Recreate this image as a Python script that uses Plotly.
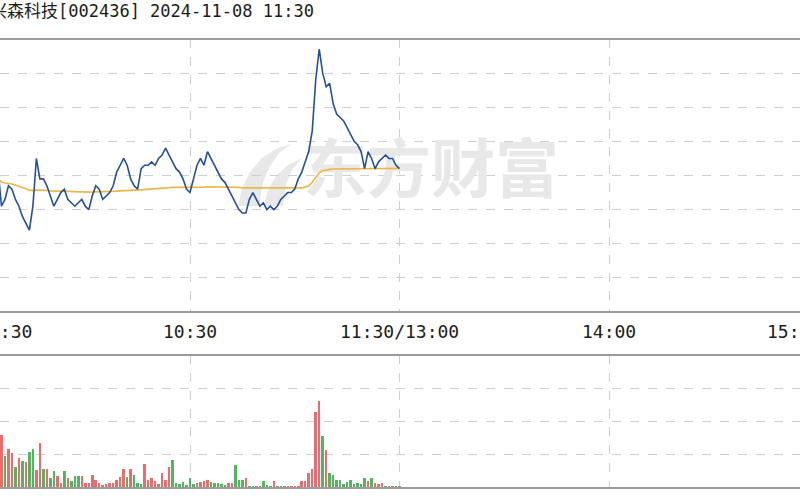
import plotly.graph_objects as go

# ---------------- data ----------------
title_text = "兴森科技[002436] 2024-11-08 11:30"
prev_close = 12.80

minutes = list(range(121))  # trading minutes from 9:30 to 11:30

price = [
    12.77, 12.80, 12.82, 12.81, 12.83, 12.82, 12.71, 12.73, 12.77, 12.76,
    12.73, 12.71, 12.68, 12.66, 12.64, 12.71, 12.85, 12.79, 12.79, 12.77,
    12.74, 12.71, 12.73, 12.75, 12.76, 12.73, 12.72, 12.71, 12.72, 12.73,
    12.71, 12.70, 12.74, 12.77, 12.76, 12.73, 12.74, 12.75, 12.77, 12.81,
    12.83, 12.85, 12.83, 12.79, 12.77, 12.76, 12.82, 12.83, 12.83, 12.84,
    12.83, 12.85, 12.86, 12.88, 12.86, 12.84, 12.82, 12.81, 12.79, 12.76,
    12.75, 12.79, 12.83, 12.85, 12.83, 12.87, 12.85, 12.83, 12.81, 12.79,
    12.78, 12.76, 12.74, 12.72, 12.70, 12.69, 12.69, 12.73, 12.75, 12.73,
    12.71, 12.72, 12.70, 12.71, 12.70, 12.71, 12.73, 12.74, 12.75, 12.75,
    12.76, 12.79, 12.81, 12.84, 12.87, 12.93, 13.08, 13.17, 13.10, 13.06,
    13.07, 13.01, 12.98, 12.97, 12.96, 12.94, 12.92, 12.90, 12.89, 12.87,
    12.82, 12.87, 12.85, 12.82, 12.84, 12.85, 12.86, 12.85, 12.85, 12.83,
    12.82,
]

avg_price = [
    12.770, 12.785, 12.792, 12.795, 12.796, 12.790, 12.781, 12.778, 12.777, 12.775,
    12.772, 12.769, 12.765, 12.761, 12.757, 12.756, 12.758, 12.758, 12.757, 12.756,
    12.755, 12.754, 12.754, 12.754, 12.754, 12.753, 12.753, 12.752, 12.752, 12.752,
    12.751, 12.751, 12.751, 12.752, 12.752, 12.752, 12.752, 12.752, 12.753, 12.754,
    12.755, 12.756, 12.757, 12.757, 12.757, 12.757, 12.758, 12.759, 12.760, 12.761,
    12.761, 12.762, 12.763, 12.764, 12.764, 12.765, 12.765, 12.765, 12.765, 12.765,
    12.764, 12.764, 12.765, 12.766, 12.766, 12.767, 12.767, 12.767, 12.767, 12.767,
    12.767, 12.766, 12.766, 12.765, 12.765, 12.764, 12.764, 12.764, 12.764, 12.764,
    12.764, 12.764, 12.763, 12.763, 12.763, 12.763, 12.763, 12.763, 12.763, 12.763,
    12.763, 12.764, 12.764, 12.766, 12.770, 12.780, 12.795, 12.808, 12.814, 12.817,
    12.818, 12.819, 12.819, 12.819, 12.820, 12.820, 12.820, 12.820, 12.820, 12.820,
    12.820, 12.820, 12.820, 12.820, 12.820, 12.820, 12.820, 12.821, 12.821, 12.821,
    12.821,
]

volume = [
    14250, 9000, 6750, 6000, 5700, 6750, 7950, 4800, 5850, 5250,
    3150, 4500, 4050, 3900, 5400, 5850, 2700, 6750, 2850, 2850,
    1500, 2550, 1800, 750, 2550, 1500, 1050, 1800, 1800, 1800,
    750, 750, 1950, 1200, 750, 450, 600, 750, 750, 1200,
    1650, 2850, 1650, 2850, 1950, 750, 600, 3600, 1200, 1500,
    1050, 600, 2250, 1200, 3150, 4200, 750, 600, 900, 450,
    1500, 600, 750, 900, 1050, 1200, 900, 750, 750, 600,
    450, 750, 750, 3450, 1200, 1200, 1500, 225, 225, 225,
    225, 1050, 450, 300, 1050, 300, 300, 300, 225, 225,
    225, 225, 1050, 1050, 2250, 2850, 11400, 13050, 7800, 5700,
    2250, 1950, 1200, 1200, 600, 900, 1200, 600, 750, 600,
    1500, 1050, 1500, 750, 600, 750, 300, 300, 300, 300,
    300,
]

# r = up minute (red), g = down minute (green)
vol_dir = list(
    "rrgrgrrgrr" "grgrggrrgr" "ggrrgrgggr" "rrrrrrrrrr" "rrgrgggrrr"
    "rrrrrggggg" "ggrrrrgggg" "grrgggrggr" "ggggrggrrr" "rrrrrrrrgr"
    "gggggggggg" "grgrrrggrr" "g"
)

time_tick_vals = [0, 60, 120, 180, 240]
time_tick_text = ["9:30", "10:30", "11:30/13:00", "14:00", "15:00"]

# ---------------- styling ----------------
W, H = 800, 500
RED, GREEN = "#ef6a6a", "#4fb85c"
GRID = "#cfcfcf"
BORDER = "#9c9c9c"


def px(x):
    return x / W


def py(y):
    return 1 - y / H


fig = go.Figure()

# watermark (drawn first so the lines sit on top)
fig.add_trace(go.Scatter(
    x=[129.0], y=[prev_close], mode="text", text=["东方财富"],
    textfont=dict(family="Noto Sans CJK SC", size=64, color="#e8e8e8", weight=700),
    hoverinfo="skip", xaxis="x", yaxis="y", cliponaxis=False,
))

fig.add_trace(go.Scatter(
    x=minutes, y=avg_price, mode="lines",
    line=dict(color="#e9b84a", width=1.7), xaxis="x", yaxis="y",
))
fig.add_trace(go.Scatter(
    x=minutes, y=price, mode="lines",
    line=dict(color="#24509a", width=1.6), xaxis="x", yaxis="y",
))

fig.add_trace(go.Bar(
    x=minutes, y=volume,
    marker=dict(color=[RED if d == "r" else GREEN for d in vol_dir], line=dict(width=0)),
    width=0.72, xaxis="x2", yaxis="y2",
))

xr = [5.58, 234.7]
axis_common = dict(showgrid=True, gridcolor=GRID, griddash="dash", gridwidth=1,
                   zeroline=False, showline=False, showticklabels=False, ticks="")

fig.update_layout(
    width=W, height=H,
    margin=dict(l=0, r=0, t=0, b=0),
    paper_bgcolor="white", plot_bgcolor="white",
    showlegend=False,
    bargap=0,
    xaxis=dict(domain=[0, 1], range=xr, tickvals=time_tick_vals[1:4], anchor="y", **axis_common),
    yaxis=dict(domain=[py(312), py(39)], range=[prev_close - 0.4, prev_close + 0.4],
               tick0=prev_close, dtick=0.1, anchor="x", **axis_common),
    xaxis2=dict(domain=[0, 1], range=xr, tickvals=time_tick_vals[1:4], anchor="y2",
                matches="x", **axis_common),
    yaxis2=dict(domain=[py(488), py(355)], range=[0, 20000], dtick=5000, anchor="x2",
                **axis_common),
)

# panel borders
for yy in (39, 312, 355, 488):
    fig.add_shape(type="line", xref="paper", yref="paper", x0=0, x1=1, y0=py(yy), y1=py(yy),
                  line=dict(color=BORDER, width=2))

# watermark logo swoosh
def path(pts):
    return "M " + " L ".join(f"{px(a):.5f},{py(b):.5f}" for a, b in pts) + " Z"

logo1 = [(238, 206), (242, 188), (250, 172), (262, 158), (278, 148), (292, 144),
         (280, 152), (270, 166), (263, 182), (259, 206)]
logo2 = [(264, 206), (268, 190), (276, 176), (288, 165), (302, 158),
         (292, 170), (286, 184), (283, 206)]
for pts in (logo1, logo2):
    fig.add_shape(type="path", xref="paper", yref="paper", path=path(pts),
                  fillcolor="#e8e8e8", line=dict(width=0), layer="below")

# title
fig.add_annotation(xref="paper", yref="paper", x=px(-12), y=py(11), xanchor="left", yanchor="middle",
                   text=title_text, showarrow=False,
                   font=dict(family="DejaVu Sans Mono, Noto Sans CJK SC", size=17, color="#1c1c1c"))

# time labels
lab_font = dict(family="DejaVu Sans Mono, Noto Sans CJK SC", size=18, color="#1c1c1c")
fig.add_annotation(xref="paper", yref="paper", x=px(34), y=py(331), xanchor="right", yanchor="middle",
                   text=time_tick_text[0], showarrow=False, font=lab_font)
for v, t in zip(time_tick_vals[1:4], time_tick_text[1:4]):
    fig.add_annotation(xref="x", yref="paper", x=v, y=py(331), xanchor="center", yanchor="middle",
                       text=t, showarrow=False, font=lab_font)
fig.add_annotation(xref="paper", yref="paper", x=px(765), y=py(331), xanchor="left", yanchor="middle",
                   text=time_tick_text[4], showarrow=False, font=lab_font)

fig.write_html(
    "out.html",
    config={"displayModeBar": False},
    post_script="document.body.style.margin='0';document.body.style.overflow='hidden';",
)
